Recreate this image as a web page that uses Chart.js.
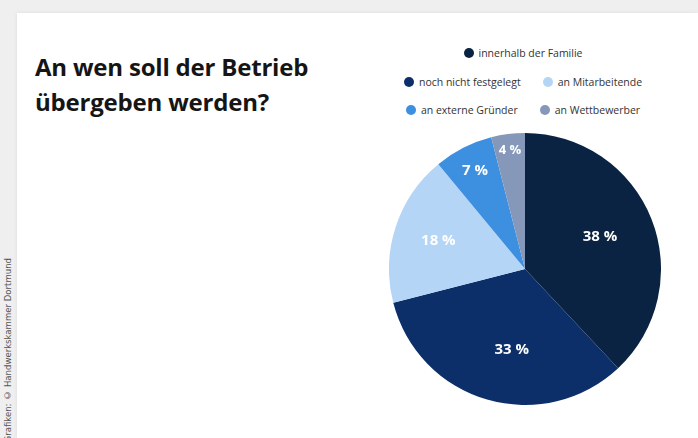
<!DOCTYPE html>
<html>
<head>
<meta charset="utf-8">
<script src="https://cdn.jsdelivr.net/npm/chart.js@4"></script>
<style>
  html, body { margin: 0; padding: 0; }
  body { width: 698px; height: 438px; background: #efefef; position: relative; overflow: hidden; font-family: "Open Sans", sans-serif; }
  #card { position: absolute; left: 17px; top: 13px; right: 0; bottom: 0; background: #fff; box-shadow: 0 0 4px rgba(0,0,0,0.08); }
  #title { position: absolute; left: 35px; top: 49px; font-size: 24px; font-weight: 700; line-height: 35px; color: #151515; letter-spacing: -0.2px; }
  #credit { position: absolute; left: 2px; bottom: -4px; writing-mode: vertical-rl; transform: rotate(180deg); font-family: "DejaVu Sans Condensed", "DejaVu Sans", sans-serif; font-size: 9.5px; color: #555; white-space: nowrap; }
  #legend { position: absolute; left: 380px; top: 46px; width: 286px; font-size: 10.5px; color: #333; }
  .row { display: flex; justify-content: center; gap: 22px; height: 28.5px; }
  .item { display: flex; align-items: flex-start; white-space: nowrap; }
  .dot { width: 10px; height: 10px; border-radius: 50%; margin-right: 5px; margin-top: 2px; }
  #pieBox { position: absolute; left: 389px; top: 133px; width: 272px; height: 272px; }
</style>
</head>
<body>
<div id="card"></div>
<div id="title">An wen soll der Betrieb<br>übergeben werden?</div>
<div id="credit">Grafiken: © Handwerkskammer Dortmund</div>
<div id="legend"></div>
<div id="pieBox"><canvas id="pie"></canvas></div>
<script>
// Anteile in Prozent
const labels = ['innerhalb der Familie', 'noch nicht festgelegt', 'an Mitarbeitende', 'an externe Gründer', 'an Wettbewerber'];
const values = [38, 33, 18, 7, 4];
const colors = ['#0a2342', '#0c2f6a', '#b5d5f7', '#3d8fe0', '#8598b9'];
const legendRows = [[0], [1, 2], [3, 4]];

// Legende als HTML
const legend = document.getElementById('legend');
legendRows.forEach(row => {
    const r = document.createElement('div');
    r.className = 'row';
    row.forEach(i => {
        const it = document.createElement('div');
        it.className = 'item';
        it.innerHTML = '<span class="dot" style="background:' + colors[i] + '"></span>' + labels[i];
        r.appendChild(it);
    });
    legend.appendChild(r);
});

// Prozentangaben in den Segmenten
const sliceLabels = {
    id: 'sliceLabels',
    afterDatasetsDraw(chart, args, opts) {
        const ctx = chart.ctx;
        const meta = chart.getDatasetMeta(0);
        ctx.save();
        ctx.fillStyle = '#fff';
        ctx.textAlign = 'center';
        ctx.textBaseline = 'middle';
        meta.data.forEach((arc, i) => {
            const p = arc.getProps(['x', 'y', 'startAngle', 'endAngle', 'outerRadius'], true);
            const mid = (p.startAngle + p.endAngle) / 2 + opts.shift[i];
            const r = p.outerRadius * opts.radius[i];
            ctx.font = 'bold ' + opts.size[i] + 'px "Open Sans"';
            ctx.fillText(values[i] + ' %', p.x + Math.cos(mid) * r, p.y + Math.sin(mid) * r);
        });
        ctx.restore();
    }
};

new Chart(document.getElementById('pie'), {
    type: 'pie',
    data: {
        labels: labels,
        datasets: [{
            data: values,
            backgroundColor: colors,
            borderWidth: 0
        }]
    },
    options: {
        responsive: true,
        maintainAspectRatio: false,
        animation: false,
        layout: { padding: 0 },
        plugins: {
            legend: { display: false },
            tooltip: { enabled: false },
            sliceLabels: {
                radius: [0.6, 0.6, 0.67, 0.81, 0.88],
                shift: [-0.03, -0.12, 0, 0, 0],
                size: [15, 15, 15, 15, 13]
            }
        }
    },
    plugins: [sliceLabels]
});
</script>
</body>
</html>
